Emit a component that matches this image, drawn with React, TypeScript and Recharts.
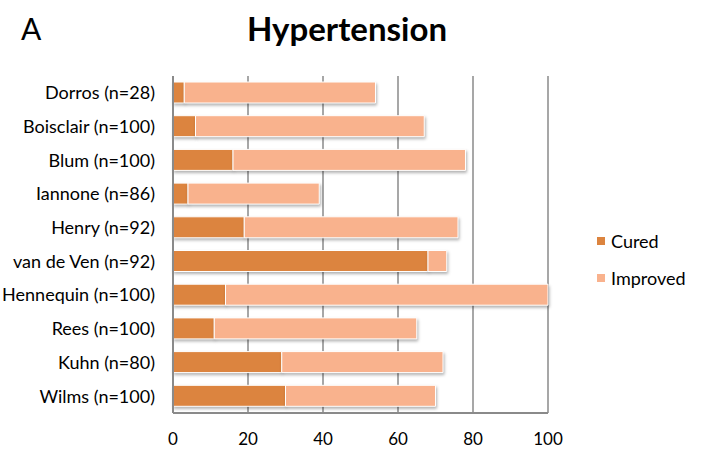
import React from "react";
import { BarChart, Bar, XAxis, YAxis, CartesianGrid } from "recharts";

const studies = [
  "Dorros (n=28)",
  "Boisclair (n=100)",
  "Blum (n=100)",
  "Iannone (n=86)",
  "Henry (n=92)",
  "van de Ven (n=92)",
  "Hennequin (n=100)",
  "Rees (n=100)",
  "Kuhn (n=80)",
  "Wilms (n=100)",
];
const cured = [3, 6, 16, 4, 19, 68, 14, 11, 29, 30];
const improved = [51, 61, 62, 35, 57, 5, 86, 54, 43, 40];
const xTicks = [0, 20, 40, 60, 80, 100];

const data = studies.map((name, i) => ({ name, cured: cured[i], improved: improved[i] }));

const CURED = "#DC843F";
const IMPROVED = "#F9B28D";
const FONT = "Lato, 'Open Sans', sans-serif";

const LegendBox = () => (
  <div style={{ position: "absolute", left: 597, top: 222, fontFamily: FONT, fontSize: 18, color: "#000" }}>
    {[
      { label: "Cured", color: CURED },
      { label: "Improved", color: IMPROVED },
    ].map((it) => (
      <div key={it.label} style={{ display: "flex", alignItems: "center", height: 37 }}>
        <span style={{ width: 8, height: 8, background: it.color, marginRight: 6, display: "inline-block" }} />
        {it.label}
      </div>
    ))}
  </div>
);

export default function App() {
  return (
    <div style={{ position: "absolute", left: 0, top: 0, width: 709, height: 460, background: "#fff", fontFamily: FONT }}>
      <style>{`.bars .recharts-rectangle { filter: drop-shadow(1px 2px 1.5px rgba(0,0,0,0.3)); }`}</style>
      <div style={{ position: "absolute", left: 21, top: 10, fontSize: 30, color: "#000" }}>A</div>
      <div style={{ position: "absolute", left: 0, width: 694, top: 8, textAlign: "center", fontSize: 33, fontWeight: 700, color: "#000" }}>
        Hypertension
      </div>
      <BarChart
        width={709}
        height={460}
        data={data}
        layout="vertical"
        margin={{ top: 76, right: 161, left: 8, bottom: 7 }}
        barSize={21}
      >
        <CartesianGrid horizontal={false} stroke="#8a8a8a" strokeWidth={1.5} />
        <XAxis
          type="number"
          domain={[0, 100]}
          ticks={xTicks}
          axisLine={{ stroke: "#8a8a8a", strokeWidth: 2 }}
          tickLine={false}
          tick={{ fill: "#000", fontSize: 17, fontFamily: FONT }}
          tickMargin={14}
          height={40}
        />
        <YAxis
          type="category"
          dataKey="name"
          width={165}
          axisLine={{ stroke: "#8a8a8a", strokeWidth: 2 }}
          tickLine={false}
          tick={{ fill: "#000", fontSize: 18, fontFamily: FONT }}
          tickMargin={12}
        />
        <Bar className="bars" dataKey="cured" name="Cured" stackId="a" fill={CURED} stroke="#fff" strokeWidth={1} isAnimationActive={false} />
        <Bar className="bars" dataKey="improved" name="Improved" stackId="a" fill={IMPROVED} stroke="#fff" strokeWidth={1} isAnimationActive={false} />
      </BarChart>
      <LegendBox />
    </div>
  );
}
